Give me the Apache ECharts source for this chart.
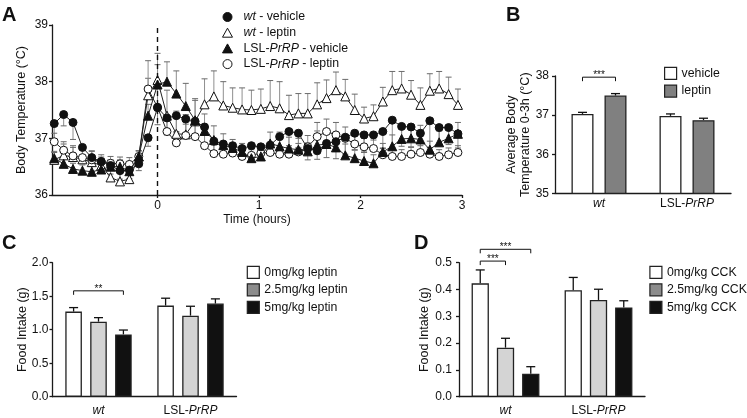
<!DOCTYPE html>
<html><head><meta charset="utf-8">
<script src="https://cdn.jsdelivr.net/npm/echarts@6/dist/echarts.min.js"></script>
<style>html,body{margin:0;padding:0;background:#fff}#c{width:747px;height:418px}</style>
</head><body><div id="c"></div>
<script>
// ---------- Panel A data ----------
const times = [-1.018,-0.925,-0.833,-0.74,-0.648,-0.555,-0.463,-0.37,-0.278,-0.185,-0.093,0,
  0.093,0.185,0.278,0.37,0.463,0.555,0.648,0.74,0.833,0.925,1.018,1.11,1.203,1.295,1.388,1.48,1.573,1.665,1.758,1.85,1.943,2.035,2.128,2.22,2.313,2.405,2.498,2.59,2.683,2.775,2.868,2.96];
const wtVehicle = [37.26,37.42,37.28,36.84,36.66,36.59,36.52,36.43,36.44,36.55,37.01,37.54,
  37.36,37.40,37.34,37.30,37.20,36.95,36.90,36.87,36.82,36.87,36.85,36.88,37.03,37.12,37.09,36.82,36.78,36.91,36.94,37.02,37.09,37.06,37.06,37.12,37.32,37.21,37.20,37.09,37.31,37.19,37.19,37.08];
const wtVehicleErr = [0.28,0.2,0.3,0.25,0.25,0.18,0.15,0.15,0.15,0.12,0.15,0.3,
  0.3,0.3,0.3,0.3,0.3,0.2,0.15,0.15,0.15,0.15,0.12,0.15,0.2,0.25,0.25,0.2,0.15,0.25,0.3,0.3,0.3,0.3,0.25,0.3,0.5,0.35,0.35,0.3,0.5,0.3,0.3,0.25];
const wtLeptin = [36.62,36.70,36.67,36.63,36.58,36.52,36.31,36.24,36.28,36.68,37.76,38.03,
  37.40,37.08,37.07,37.30,37.60,37.74,37.58,37.54,37.51,37.50,37.52,37.57,37.53,37.41,37.44,37.44,37.60,37.71,37.85,37.74,37.50,37.35,37.39,37.65,37.85,37.88,37.77,37.59,37.84,37.88,37.78,37.59];
const wtLeptinErr = [0.15,0.2,0.2,0.22,0.2,0.15,0.25,0.2,0.2,0.1,0.3,0.47,
  0.45,0.4,0.35,0.4,0.45,0.45,0.42,0.35,0.38,0.35,0.35,0.45,0.47,0.35,0.35,0.35,0.38,0.32,0.32,0.3,0.28,0.2,0.2,0.25,0.33,0.3,0.25,0.3,0.3,0.3,0.3,0.28];
const lslVehicle = [36.65,36.55,36.46,36.43,36.41,36.45,36.50,36.50,36.42,36.68,37.40,37.95,
  38.00,37.79,37.57,37.32,37.13,36.97,36.88,36.83,36.76,36.65,36.68,36.91,36.86,36.82,36.80,36.77,36.88,36.90,36.84,36.70,36.65,36.60,36.56,36.76,36.86,36.99,37.00,36.98,36.80,36.93,37.00,37.08];
const lslVehicleErr = [0.1,0.1,0.1,0.1,0.1,0.12,0.12,0.12,0.1,0.1,0.2,0.35,
  0.35,0.4,0.4,0.35,0.3,0.25,0.2,0.15,0.15,0.15,0.15,0.2,0.25,0.2,0.2,0.15,0.25,0.2,0.25,0.2,0.15,0.15,0.15,0.15,0.2,0.2,0.2,0.25,0.15,0.2,0.2,0.2];
const lslLeptin = [36.94,36.79,36.69,36.66,36.62,36.59,36.56,36.55,36.54,36.68,37.87,37.55,
  37.12,36.92,37.05,37.03,36.87,36.73,36.72,36.74,36.68,36.70,36.74,36.75,36.72,36.72,36.76,36.85,37.03,37.12,37.06,37.00,36.90,36.85,36.82,36.71,36.68,36.68,36.72,36.75,36.72,36.68,36.71,36.75];
const lslLeptinErr = [0.15,0.15,0.15,0.15,0.15,0.12,0.12,0.12,0.12,0.1,0.5,0.4,
  0.25,0.2,0.2,0.2,0.2,0.15,0.12,0.12,0.12,0.12,0.12,0.12,0.12,0.12,0.15,0.2,0.25,0.22,0.22,0.2,0.2,0.15,0.15,0.12,0.12,0.12,0.12,0.12,0.12,0.12,0.12,0.12];
const aTicks = [0,1,2,3];

// ---------- Bar panels data ----------
const groups = ['wt','LSL-PrRP'];
const bVehicle = [37.03,36.98], bVehicleErr = [0.04,0.05];
const bLeptin = [37.50,36.87], bLeptinErr = [0.05,0.05];
const c0 = [1.27,1.36], c0Err = [0.06,0.11];
const c25 = [1.12,1.21], c25Err = [0.06,0.14];
const c5 = [0.93,1.39], c5Err = [0.065,0.07];
const d0 = [0.423,0.397], d0Err = [0.05,0.048];
const d25 = [0.183,0.361], d25Err = [0.035,0.04];
const d5 = [0.086,0.333], d5Err = [0.026,0.025];
const bSig = [[0,0,1,37.97,'***']];
const cSig = [[0,0,2,1.58,'**']];
const dSig = [[0,0,1,0.506,'***'],[0,0,2,0.55,'***']];

const FF = 'Liberation Sans, Arial, sans-serif';
const AX = '#1a1a1a';

function pairs(v){ return times.map((t,i)=>[t, v[i]]); }
function triples(v,e){ return times.map((t,i)=>[t, v[i], e[i]]); }

function errLine(dir){
  return function(params, api){
    const x = api.value(0), y = api.value(1), e = api.value(2);
    const p0 = api.coord([x,y]), p1 = api.coord([x,y+dir*e]);
    return {type:'group', children:[
      {type:'line', shape:{x1:p0[0],y1:p0[1],x2:p1[0],y2:p1[1]}, style:{stroke:'#8f8f8f', lineWidth:1}},
      {type:'line', shape:{x1:p1[0]-3,y1:p1[1],x2:p1[0]+3,y2:p1[1]}, style:{stroke:'#6a6a6a', lineWidth:1}}
    ]};
  };
}
function barErr(k,n,w,gap){
  return function(params, api){
    const c = api.coord([api.value(0), api.value(1)]);
    const t = api.coord([api.value(0), api.value(1)+api.value(2)]);
    const x = c[0] + (k-(n-1)/2)*w*(1+gap);
    return {type:'group', children:[
      {type:'line', shape:{x1:x,y1:c[1],x2:x,y2:t[1]}, style:{stroke:'#111', lineWidth:1.3}},
      {type:'line', shape:{x1:x-4.5,y1:t[1],x2:x+4.5,y2:t[1]}, style:{stroke:'#111', lineWidth:1.3}}
    ]};
  };
}
function sigRender(n,w,gap){
  return function(params, api){
    const c = api.coord([api.value(0), api.value(3)]);
    const x1 = c[0] + (api.value(1)-(n-1)/2)*w*(1+gap);
    const x2 = c[0] + (api.value(2)-(n-1)/2)*w*(1+gap);
    const y = c[1];
    return {type:'group', children:[
      {type:'polyline', shape:{points:[[x1,y+4],[x1,y],[x2,y],[x2,y+4]]}, style:{stroke:'#111', lineWidth:1, fill:null}},
      {type:'text', style:{text:api.value(4), x:(x1+x2)/2, y:y+3, align:'center', verticalAlign:'bottom', fontSize:10, fontFamily:FF, fill:'#111'}}
    ]};
  };
}

function valY(grid,min,max,interval,margin,fmt){
  return {type:'value', gridIndex:grid, min:min, max:max, interval:interval,
    axisLine:{show:true, onZero:false, lineStyle:{color:AX, width:1.3}},
    axisTick:{show:true, length:3, lineStyle:{color:AX, width:1.3}},
    axisLabel:{margin:margin, fontFamily:FF, fontSize:12, color:'#111', formatter:fmt},
    splitLine:{show:false}};
}
const richCat = {i:{fontStyle:'italic', fontFamily:FF, fontSize:12, color:'#111'}, n:{fontFamily:FF, fontSize:12, color:'#111'}};
function catX(grid, margin){
  return {type:'category', gridIndex:grid, data:groups,
    axisLine:{show:true, lineStyle:{color:AX, width:1.3}},
    axisTick:{show:false},
    axisLabel:{interval:0, hideOverlap:false, margin:margin, formatter:v=> v==='wt' ? '{i|wt}' : '{n|LSL-}{i|PrRP}', rich:richCat}};
}
function bar(name, data, xi, w, gap, color){
  return {type:'bar', name:name, xAxisIndex:xi, yAxisIndex:xi, data:data, barWidth:w, barGap:(gap*100)+'%',
    itemStyle:{color:color, borderColor:'#222', borderWidth:1.3}, z:2};
}
function errS(vals, errs, xi, k, n, w, gap){
  return {type:'custom', xAxisIndex:xi, yAxisIndex:xi, z:1, silent:true,
    data: vals.map((v,i)=>[i, v, errs[i]]), renderItem:barErr(k,n,w,gap)};
}
function sigS(data, xi, n, w, gap){
  return {type:'custom', xAxisIndex:xi, yAxisIndex:xi, z:3, silent:true, clip:false,
    data:data, renderItem:sigRender(n,w,gap)};
}
function yTitle(text, x, y){
  return {type:'text', x:x, y:y, rotation:Math.PI/2,
    style:{text:text, align:'center', verticalAlign:'middle', font:'12.5px '+FF, fill:'#111', lineHeight:13.5}};
}

const legRich = {
  i:{fontStyle:'italic', fontFamily:FF, fontSize:12.3, color:'#111'},
  i0:{fontStyle:'italic', fontFamily:FF, fontSize:12.3, color:'#111', padding:[0,0,0,6]},
  n:{fontFamily:FF, fontSize:12.3, color:'#111'},
  n0:{fontFamily:FF, fontSize:12.3, color:'#111', padding:[0,0,0,6]}
};
function legFmt(name){
  if (name.indexOf('wt') === 0) return '{i0|wt}{n|' + name.slice(2) + '}';
  if (name.indexOf('LSL-PrRP') === 0) return '{n0|LSL-}{i|PrRP}{n|' + name.slice(8) + '}';
  return '{n|' + name + '}';
}
function boxLeg(left, top, gapv, items){
  return {orient:'vertical', left:left, top:top, itemWidth:12, itemHeight:12, itemGap:gapv, padding:0,
    selectedMode:false, textStyle:{fontFamily:FF, fontSize:12.3, color:'#111'},
    data: items.map(it=>({name:it[0], icon:'rect', itemStyle:{color:it[1], borderColor:'#222', borderWidth:1.2}}))};
}

const wB = 22, gB = 0.5, wC = 16.6, gC = 0.5, wD = 17.3, gD = 0.46;
const open = {color:'#fff', borderColor:'#111', borderWidth:1};
const filled = {color:'#111', borderColor:'#111', borderWidth:1};

const option = {
  animation:false,
  textStyle:{fontFamily:FF},
  graphic:[
    {type:'text', left:2, top:5, style:{text:'A', font:'bold 20px '+FF, fill:'#111'}},
    {type:'text', left:506, top:5, style:{text:'B', font:'bold 20px '+FF, fill:'#111'}},
    {type:'text', left:2, top:233, style:{text:'C', font:'bold 20px '+FF, fill:'#111'}},
    {type:'text', left:414, top:233, style:{text:'D', font:'bold 20px '+FF, fill:'#111'}},
    yTitle('Body Temperature (°C)', 21.5, 110),
    yTitle('Average Body\nTemperature 0-3h (°C)', 518.5, 134.7),
    yTitle('Food Intake (g)', 22.5, 329.7),
    yTitle('Food Intake (g)', 425, 329.7)
  ],
  legend:[
    {orient:'vertical', left:222, top:11, itemWidth:10, itemHeight:9, itemGap:3.7, padding:0, selectedMode:false,
      formatter:legFmt, textStyle:{fontFamily:FF, fontSize:12.3, color:'#111', rich:legRich},
      data:[
        {name:'wt - vehicle', icon:'circle', itemStyle:filled},
        {name:'wt - leptin', icon:'triangle', itemStyle:open},
        {name:'LSL-PrRP - vehicle', icon:'triangle', itemStyle:filled},
        {name:'LSL-PrRP - leptin', icon:'circle', itemStyle:open}
      ]},
    boxLeg(664, 66.7, 4.6, [['vehicle','#fff'],['leptin','#808080']]),
    boxLeg(246.7, 265.7, 4.3, [['0mg/kg leptin','#fff'],['2.5mg/kg leptin','#8c8c8c'],['5mg/kg leptin','#111']]),
    boxLeg(649.3, 265.7, 4.3, [['0mg/kg CCK','#fff'],['2.5mg/kg CCK','#8c8c8c'],['5mg/kg CCK','#111']])
  ],
  grid:[
    {left:52, top:25, width:410, height:170},
    {left:555, top:76, width:176, height:117.3},
    {left:52.5, top:262.7, width:184, height:134},
    {left:459, top:262.7, width:186, height:134}
  ],
  xAxis:[
    {type:'value', gridIndex:0, min:-1.04, max:3,
      name:'Time (hours)', nameLocation:'middle', nameGap:19,
      nameTextStyle:{fontFamily:FF, fontSize:12, color:'#111', verticalAlign:'top'},
      axisLine:{show:true, onZero:false, lineStyle:{color:AX, width:1.3}},
      axisTick:{show:true, length:3, customValues:aTicks, lineStyle:{color:AX, width:1.3}},
      axisLabel:{margin:5, customValues:aTicks, fontFamily:FF, fontSize:12, color:'#111'},
      splitLine:{show:false}},
    catX(1, 4), catX(2, 8), catX(3, 8)
  ],
  yAxis:[
    valY(0, 36, 39, 1, 4),
    valY(1, 35, 38, 1, 6),
    valY(2, 0, 2, 0.5, 4, v=>v.toFixed(1)),
    valY(3, 0, 0.5, 0.1, 7, v=>v.toFixed(1))
  ],
  series:[
    {type:'custom', xAxisIndex:0, yAxisIndex:0, z:1, silent:true, data:triples(wtVehicle, wtVehicleErr), renderItem:errLine(-1)},
    {type:'custom', xAxisIndex:0, yAxisIndex:0, z:1, silent:true, data:triples(wtLeptin, wtLeptinErr), renderItem:errLine(1)},
    {type:'custom', xAxisIndex:0, yAxisIndex:0, z:1, silent:true, data:triples(lslVehicle, lslVehicleErr), renderItem:errLine(1)},
    {type:'custom', xAxisIndex:0, yAxisIndex:0, z:1, silent:true, data:triples(lslLeptin, lslLeptinErr), renderItem:errLine(1)},
    {type:'line', name:'wt - leptin', xAxisIndex:0, yAxisIndex:0, data:pairs(wtLeptin), symbol:'triangle', symbolSize:9,
      lineStyle:{color:'#222', width:1}, itemStyle:open, z:3,
      markLine:{silent:true, symbol:'none', label:{show:false}, lineStyle:{color:'#111', type:[5,4], width:1.4}, data:[{xAxis:0}]}},
    {type:'line', name:'LSL-PrRP - leptin', xAxisIndex:0, yAxisIndex:0, data:pairs(lslLeptin), symbol:'circle', symbolSize:8,
      lineStyle:{color:'#222', width:1}, itemStyle:open, z:3},
    {type:'line', name:'LSL-PrRP - vehicle', xAxisIndex:0, yAxisIndex:0, data:pairs(lslVehicle), symbol:'triangle', symbolSize:9,
      lineStyle:{color:'#222', width:1}, itemStyle:filled, z:4},
    {type:'line', name:'wt - vehicle', xAxisIndex:0, yAxisIndex:0, data:pairs(wtVehicle), symbol:'circle', symbolSize:8,
      lineStyle:{color:'#222', width:1}, itemStyle:filled, z:4},

    bar('vehicle', bVehicle, 1, wB, gB, '#fff'),
    bar('leptin', bLeptin, 1, wB, gB, '#808080'),
    errS(bVehicle, bVehicleErr, 1, 0, 2, wB, gB),
    errS(bLeptin, bLeptinErr, 1, 1, 2, wB, gB),
    sigS(bSig, 1, 2, wB, gB),

    bar('0mg/kg leptin', c0, 2, wC, gC, '#fff'),
    bar('2.5mg/kg leptin', c25, 2, wC, gC, '#d4d4d4'),
    bar('5mg/kg leptin', c5, 2, wC, gC, '#111'),
    errS(c0, c0Err, 2, 0, 3, wC, gC),
    errS(c25, c25Err, 2, 1, 3, wC, gC),
    errS(c5, c5Err, 2, 2, 3, wC, gC),
    sigS(cSig, 2, 3, wC, gC),

    bar('0mg/kg CCK', d0, 3, wD, gD, '#fff'),
    bar('2.5mg/kg CCK', d25, 3, wD, gD, '#d4d4d4'),
    bar('5mg/kg CCK', d5, 3, wD, gD, '#111'),
    errS(d0, d0Err, 3, 0, 3, wD, gD),
    errS(d25, d25Err, 3, 1, 3, wD, gD),
    errS(d5, d5Err, 3, 2, 3, wD, gD),
    sigS(dSig, 3, 3, wD, gD)
  ]
};
const chart = echarts.init(document.getElementById('c'), null, {renderer:'canvas'});
chart.setOption(option);
</script></body></html>
